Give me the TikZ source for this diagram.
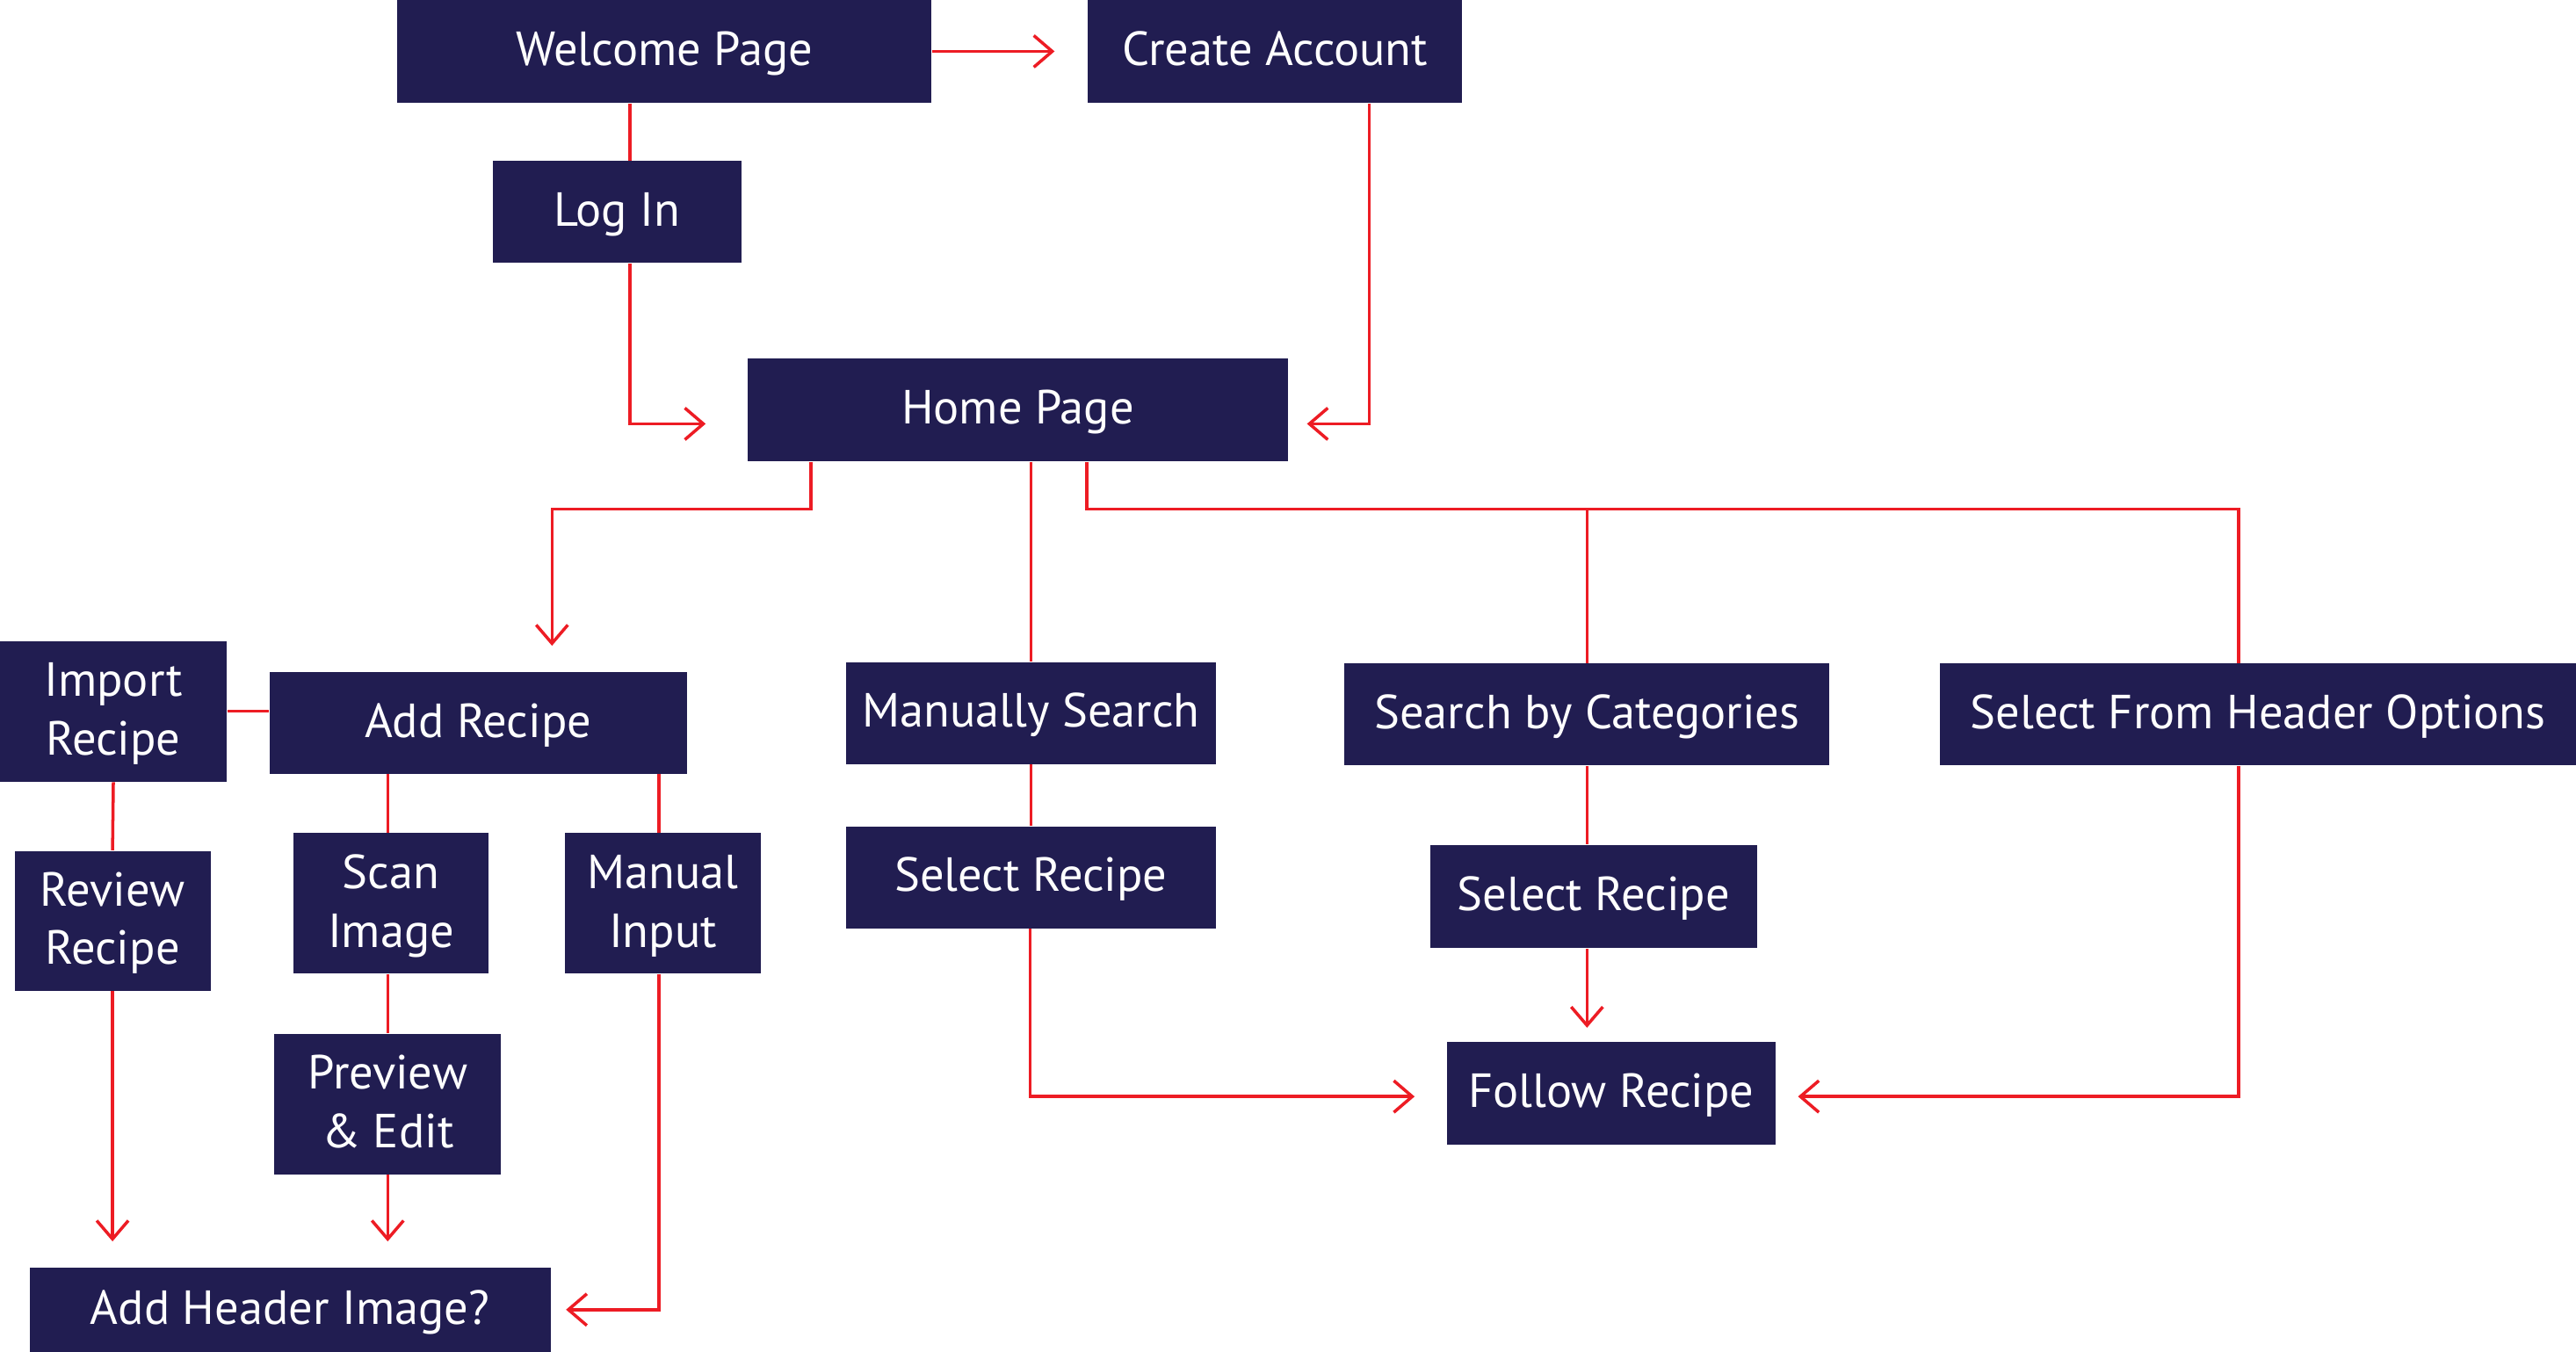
\documentclass[tikz,border=0pt]{standalone}
\usepackage{fontspec}
\setmainfont{PT Sans}
\usetikzlibrary{arrows.meta}
\definecolor{fcNavy}{RGB}{33,29,81}
\definecolor{fcRed}{RGB}{237,28,36}

\begin{document}
\begin{tikzpicture}[
  x=0.187mm, y=-0.187mm,
  font=\fontsize{15.5pt}{19pt}\selectfont,
  box/.style={fill=fcNavy, text=white, inner sep=0pt, minimum height=1.16cm, align=center,
    text height=12.4pt, text depth=3.1pt},
  tall/.style={box, minimum height=1.6cm, text height=31.4pt},
  link/.style={draw=fcRed, line width=1pt},
  arr/.style={link, -{Straight Barb[length=2.1mm, width=3.6mm]}},
]
\useasboundingbox (0,0) rectangle (1568,823);
% top
\node[box, minimum width=6.08cm, minimum height=1.17cm] (welcome) at (404.5,31.25) {Welcome Page};
\node[box, minimum width=4.26cm, minimum height=1.17cm] (create) at (776,31.25) {Create Account};
\node[box, minimum width=2.83cm] (login) at (375.5,129) {Log In};
\node[box, minimum width=6.15cm, minimum height=1.17cm] (home) at (619.5,249.5) {Home Page};
% add recipe branch
\node[tall, minimum width=2.58cm] (import) at (69,433) {Import\\Recipe};
\node[box, minimum width=4.75cm] (addrec) at (291,440) {Add Recipe};
\node[tall, minimum width=2.23cm, minimum height=1.59cm] (review) at (68.5,560.5) {Review\\Recipe};
\node[tall, minimum width=2.22cm] (scan) at (238,550) {Scan\\Image};
\node[tall, minimum width=2.23cm] (manual) at (403.5,550) {Manual\\Input};
\node[tall, minimum width=2.58cm] (preview) at (236,672) {Preview\\\& Edit};
\node[box, minimum width=5.93cm, minimum height=0.96cm] (header) at (176.5,797.25) {Add Header Image?};
% search branch
\node[box, minimum width=4.21cm] (msearch) at (627.5,434) {Manually Search};
\node[box, minimum width=4.21cm] (selA) at (627.5,534) {Select Recipe};
\node[box, minimum width=5.52cm] (catsearch) at (966,435) {Search by Categories};
\node[box, minimum width=3.72cm, minimum height=1.17cm] (selB) at (970,545.75) {Select Recipe};
\node[box, minimum width=7.24cm] (hdropt) at (1374.5,435) {Select From Header Options};
\node[box, minimum width=3.74cm, minimum height=1.17cm] (follow) at (980.7,665.3) {Follow Recipe};

% login / signup
\draw[arr, shorten >=0.37cm] (welcome.east) -- (create.west);
\draw[link] (welcome.south -| 383.5,0) -- (login.north -| 383.5,0);
\draw[arr, shorten >=0.47cm] (login.south -| 383.5,0) |- (home.west |- 0,258);
\draw[arr, shorten >=0.21cm] (create.south -| 833.5,0) |- (home.east |- 0,258);
% home page
\draw[arr, shorten >=0.29cm] (home.south -| 493.5,0) |- (336,310) -- (addrec.north -| 336,0);
\draw[link] (home.south -| msearch.north) -- (msearch.north);
\draw[link] (home.south -| 661.5,0) |- (1362.5,310) -- (hdropt.north -| 1362.5,0);
\draw[link] (catsearch.north) -- (catsearch.north |- 0,310);
% adding recipes
\draw[link] (import.east) -- (import.east -| addrec.west);
\draw[link] (import.south) -- (review.north);
\draw[arr, shorten >=0.29cm] (review.south) -- (header.north -| review.south);
\draw[link] (addrec.south -| 236,0) -- (scan.north -| 236,0);
\draw[link] (scan.south -| 236,0) -- (preview.north);
\draw[arr, shorten >=0.29cm] (preview.south) -- (header.north -| preview.south);
\draw[link] (addrec.south -| 401,0) -- (manual.north -| 401,0);
\draw[arr, shorten >=0.17cm] (manual.south -| 401,0) |- (header.east);
% finding recipes
\draw[link] (msearch.south) -- (selA.north);
\draw[arr, shorten >=0.36cm] (selA.south -| 627,0) |- (follow.west |- 0,667.5);
\draw[link] (catsearch.south) -- (catsearch.south |- selB.north);
\draw[arr, shorten >=0.15cm] (selB.south -| 966,0) -- (follow.north -| 966,0);
\draw[arr, shorten >=0.25cm] (hdropt.south -| 1362.5,0) |- (follow.east |- 0,667.5);
\end{tikzpicture}
\end{document}
